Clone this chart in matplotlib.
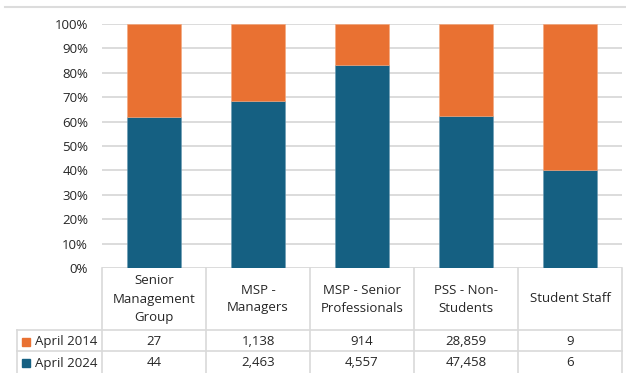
import numpy as np
import matplotlib
matplotlib.use("Agg")
import matplotlib.pyplot as plt

categories = ["Senior\nManagement\nGroup", "MSP -\nManagers", "MSP - Senior\nProfessionals",
              "PSS - Non-\nStudents", "Student Staff"]
series_names = ["April 2014", "April 2024"]
april_2014 = [27, 1138, 914, 28859, 9]
april_2024 = [44, 2463, 4557, 47458, 6]

orange = "#E97132"
blue = "#156082"
grid = "#D9D9D9"
txt = "#262626"

plt.rcParams["font.family"] = ["Open Sans", "DejaVu Sans"]

W, H = 626, 373
fig = plt.figure(figsize=(W / 100, H / 100), dpi=100)

def fx(px):
    return px / W

def fy(py):
    return 1 - py / H

# plot area
left, right, top, bottom = 102, 622, 24, 268
ax = fig.add_axes([fx(left), fy(bottom), fx(right - left), (bottom - top) / H])

a14 = np.array(april_2014, dtype=float)
a24 = np.array(april_2024, dtype=float)
tot = a14 + a24
p24 = a24 / tot
p14 = a14 / tot
x = np.arange(len(categories))

ax.bar(x, p24, width=0.52, color=blue, edgecolor="#6A9BB3", linewidth=0.4, zorder=3)
ax.bar(x, p14, bottom=p24, width=0.52, color=orange, edgecolor="#F4A77C", linewidth=0.4, zorder=3)

ax.set_xlim(-0.5, len(categories) - 0.5)
ax.set_ylim(0, 1)
ax.set_yticks(np.arange(0, 1.01, 0.1))
ax.set_yticklabels([f"{int(round(v * 100))}%" for v in np.arange(0, 1.01, 0.1)],
                   fontsize=9.5, color=txt)
ax.tick_params(axis="y", length=0, pad=10)
ax.set_xticks([])
ax.yaxis.grid(True, color=grid, linewidth=1.3, zorder=0)
for s in ax.spines.values():
    s.set_visible(False)

# top border line
fig.add_artist(plt.Line2D([fx(5), fx(626)], [fy(6.5), fy(6.5)], color="#DCDCDC", lw=1.5))

# data table
col_edges = np.linspace(left, right, len(categories) + 1)
row_y = [268, 330, 351, 373]
lc = "#D9D9D9"
lw = 1.2
for xe in col_edges:
    fig.add_artist(plt.Line2D([fx(xe), fx(xe)], [fy(268), fy(373)], color=lc, lw=lw))
fig.add_artist(plt.Line2D([fx(17), fx(17)], [fy(330), fy(373)], color=lc, lw=lw))
fig.add_artist(plt.Line2D([fx(17), fx(right)], [fy(330), fy(330)], color=lc, lw=lw))
fig.add_artist(plt.Line2D([fx(17), fx(right)], [fy(351), fy(351)], color=lc, lw=lw))

centers = (col_edges[:-1] + col_edges[1:]) / 2
for c, name in zip(centers, categories):
    fig.text(fx(c), fy(299), name, ha="center", va="center", fontsize=9.5,
             color=txt, linespacing=1.5)

rows = [april_2014, april_2024]
colors = [orange, blue]
for r, (vals, nm, col) in enumerate(zip(rows, series_names, colors)):
    yc = (row_y[r + 1] + row_y[r + 2]) / 2 + 1
    for c, v in zip(centers, vals):
        fig.text(fx(c), fy(yc), f"{v:,}", ha="center", va="center", fontsize=9.5, color=txt)
    fig.add_artist(plt.Rectangle((fx(22), fy(yc + 4)), 8 / W, 8 / H, color=col))
    fig.text(fx(35), fy(yc), nm, ha="left", va="center", fontsize=9.5, color=txt)

fig.savefig("out.png", dpi=100)
